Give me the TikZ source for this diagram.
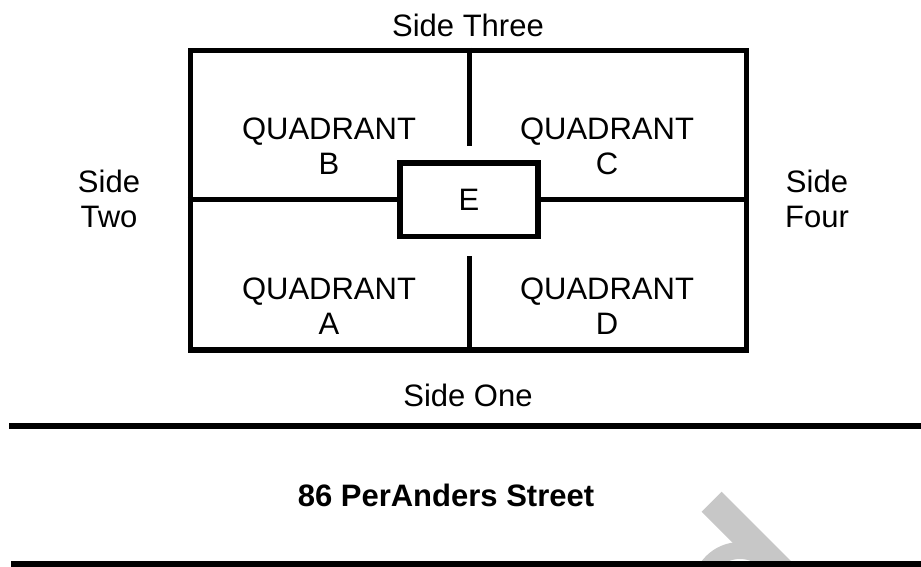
\documentclass[tikz,border=0pt]{standalone}
\usepackage{fontspec}
\setmainfont{Liberation Sans}
\begin{document}
\begin{tikzpicture}[x=1pt,y=-1pt,
  lbl/.style={align=center,inner sep=0pt,font=\fontsize{31}{35}\selectfont},
  wall/.style={line width=5.5pt},
  inner/.style={line width=5pt},
  road/.style={line width=5.5pt},
  wm/.style={fill=black!22,draw=none}]
\useasboundingbox (0,0) rectangle (921,566);
\begin{scope}
\clip (0,0) rectangle (921,566);
% faint watermark fragment
\fill[wm,even odd rule] (740,590) circle (48) (740,590) circle (31);
\fill[wm] (721.7,491.7) -- (800,570) -- (760,570) -- (701.7,511.7) -- cycle;
% street lines
\coordinate (r1a) at (9,426);
\coordinate (r1b) at (921,426);
\coordinate (r2a) at (11,564);
\coordinate (r2b) at (921,564);
\draw[road] (r1a) -- (r1b);
\draw[road] (r2a) -- (r2b);
\end{scope}
% building outline
\node[draw,wall,minimum width=556pt,minimum height=299.5pt,inner sep=0pt] (house) at (468.5,200.25) {};
% centre box E
\node[draw,wall,minimum width=138pt,minimum height=73.5pt,inner sep=0pt,lbl] (E) at (469,199.75) {E};
% partitions
\draw[inner] (house.west |- E.west) -- (E.west);
\draw[inner] (E.east) -- (house.east |- E.east);
\coordinate (vt) at (469,146);
\coordinate (vb) at (469,256);
\draw[inner] (house.north -| vt) -- (vt);
\draw[inner] (vb) -- (house.south -| vb);
% labels
\node[lbl] (qb) at (329,146) {QUADRANT\\B};
\node[lbl] (qc) at (607,146) {QUADRANT\\C};
\node[lbl] (qa) at (329,306) {QUADRANT\\A};
\node[lbl] (qd) at (607,306) {QUADRANT\\D};
\node[lbl] (s3) at (468,25) {Side Three};
\node[lbl] (s1) at (468,395) {Side One};
\node[lbl] (s2) at (109,199) {Side\\Two};
\node[lbl] (s4) at (817,199) {Side\\Four};
\node[lbl,font=\fontsize{31}{35}\selectfont\bfseries] (st) at (446,495) {86 PerAnders Street};
\end{tikzpicture}
\end{document}
